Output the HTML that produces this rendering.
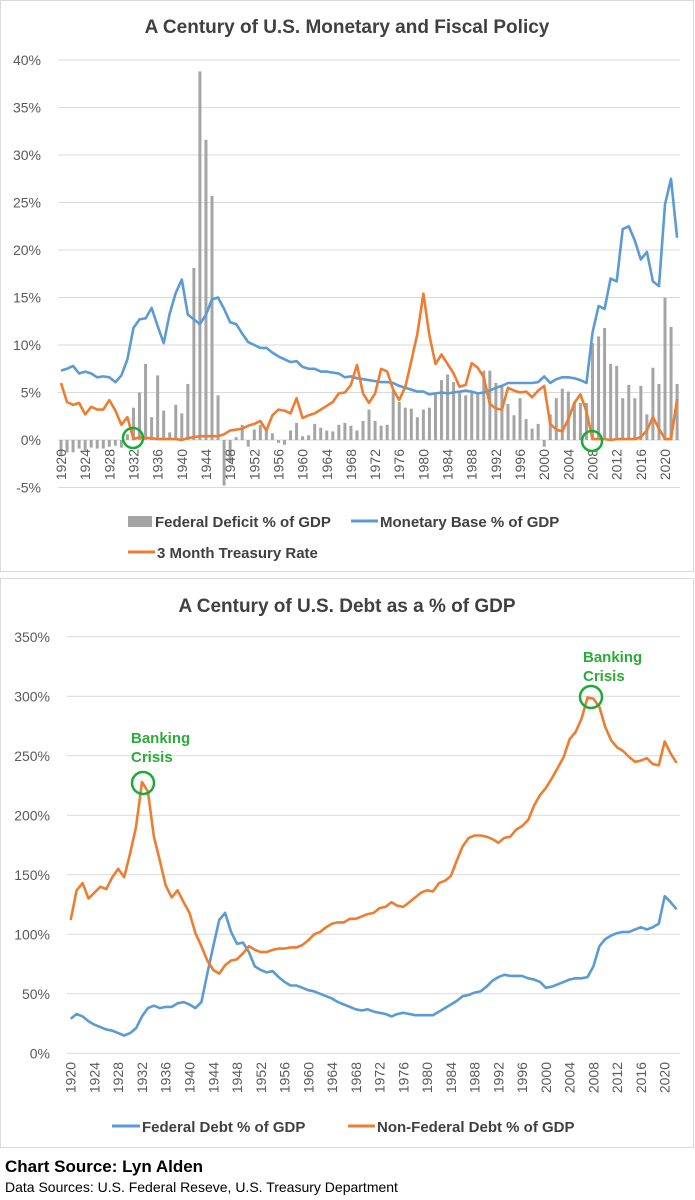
<!DOCTYPE html>
<html><head><meta charset="utf-8"><style>
html,body{margin:0;padding:0;background:#fff;width:695px;height:1200px;overflow:hidden;font-family:"Liberation Sans",Arial,sans-serif}
svg text{font-family:"Liberation Sans",Arial,sans-serif}
</style></head><body>
<svg id="svg" width="695" height="1200" viewBox="0 0 695 1200" xmlns="http://www.w3.org/2000/svg">
<rect x="0.5" y="0.5" width="693" height="571" fill="#fff" stroke="#d9d9d9"/>
<rect x="0.5" y="578.5" width="693" height="569" fill="#fff" stroke="#d9d9d9"/>
<text x="347" y="33" text-anchor="middle" font-size="19" font-weight="bold" fill="#404040">A Century of U.S. Monetary and Fiscal Policy</text>
<text x="347" y="612" text-anchor="middle" font-size="19" font-weight="bold" fill="#404040">A Century of U.S. Debt as a % of GDP</text>
<g id="topchart"></g><g id="botchart"></g>
<g font-weight="bold">
<rect x="128" y="516" width="24" height="11" fill="#a5a5a5"/>
<text x="155" y="527" font-size="15" fill="#404040">Federal Deficit % of GDP</text>
<line x1="351" y1="521" x2="378" y2="521" stroke="#5b9bd5" stroke-width="3"/>
<text x="380" y="527" font-size="15" fill="#404040">Monetary Base % of GDP</text>
<line x1="128" y1="552" x2="155" y2="552" stroke="#ed7d31" stroke-width="3"/>
<text x="157" y="558" font-size="15" fill="#404040">3 Month Treasury Rate</text>
</g>
<g font-weight="bold">
<line x1="112" y1="1126" x2="140" y2="1126" stroke="#5b9bd5" stroke-width="3"/>
<text x="142" y="1132" font-size="15" fill="#404040">Federal Debt % of GDP</text>
<line x1="348" y1="1126" x2="375" y2="1126" stroke="#ed7d31" stroke-width="3"/>
<text x="377" y="1132" font-size="15" fill="#404040">Non-Federal Debt % of GDP</text>
</g>
<g id="annot">
<circle cx="133" cy="438" r="10" fill="none" stroke="#1aaa3a" stroke-width="2.5"/>
<circle cx="592" cy="441" r="10" fill="none" stroke="#1aaa3a" stroke-width="2.5"/>
<circle cx="143" cy="783" r="11" fill="none" stroke="#1aaa3a" stroke-width="2.5"/>
<circle cx="591" cy="697" r="11" fill="none" stroke="#1aaa3a" stroke-width="2.5"/>
<text x="131" y="743" font-size="15" font-weight="bold" fill="#2eaa3a"><tspan x="131">Banking</tspan><tspan x="131" dy="19">Crisis</tspan></text>
<text x="583" y="662" font-size="15" font-weight="bold" fill="#2eaa3a"><tspan x="583">Banking</tspan><tspan x="583" dy="19">Crisis</tspan></text>
</g>
<text x="5" y="1172" font-size="17" font-weight="bold" fill="#000">Chart Source: Lyn Alden</text>
<text x="5" y="1192" font-size="14" fill="#000">Data Sources: U.S. Federal Reseve, U.S. Treasury Department</text>
</svg>
<script>
const startYear = 1920;
const topTicks = [-5,0,5,10,15,20,25,30,35,40];
const botTicks = [0,50,100,150,200,250,300,350];
const deficit = [-1.7,-1.3,-1.3,-0.9,-1.1,-0.8,-0.9,-0.9,-0.7,-0.6,-0.8,0.6,3.4,5.0,8.0,2.4,6.8,3.1,0.8,3.7,2.8,5.9,18.1,38.8,31.6,25.7,4.7,-4.8,-2.4,0.3,1.6,-0.7,1.1,1.6,1.2,0.7,-0.3,-0.5,1.0,1.8,0.4,0.5,1.7,1.3,1.0,0.9,1.6,1.8,1.5,1.0,2.0,3.2,2.0,1.5,1.6,5.3,4.0,3.4,3.3,2.4,3.2,3.4,5.0,6.3,6.9,6.1,5.0,4.7,5.0,5.0,7.3,7.3,6.0,5.6,3.8,2.6,4.4,2.2,1.2,1.7,-0.7,2.7,4.4,5.4,5.1,4.0,3.9,3.9,10.2,10.9,11.8,8.0,7.8,4.4,5.8,4.4,5.7,2.7,7.6,5.9,15.0,11.9,5.9];
const monetaryBase = [7.3,7.5,7.8,7.0,7.2,7.0,6.6,6.7,6.6,6.1,6.8,8.5,11.8,12.7,12.8,13.9,12.0,10.2,13.3,15.5,16.9,13.2,12.7,12.2,13.2,14.8,15.0,13.8,12.4,12.2,11.2,10.3,10.0,9.7,9.7,9.2,8.8,8.5,8.2,8.3,7.7,7.5,7.5,7.2,7.2,7.1,7.0,6.6,6.7,6.5,6.4,6.3,6.2,6.1,6.1,6.0,5.7,5.5,5.3,5.1,5.1,4.8,4.9,5.0,4.9,5.0,5.1,5.2,5.1,4.9,5.0,5.2,5.5,5.7,6.0,6.0,6.0,6.0,6.0,6.1,6.7,6.0,6.4,6.6,6.6,6.5,6.3,6.0,11.3,14.1,13.8,17.0,16.7,22.2,22.5,21.0,19.0,19.8,16.7,16.2,24.8,27.5,21.3];
const tbill = [6.0,4.0,3.7,3.9,2.7,3.5,3.2,3.2,4.2,3.1,1.6,2.4,0.1,0.3,0.2,0.2,0.1,0.1,0.1,0.1,0.0,0.2,0.3,0.4,0.4,0.4,0.4,0.6,1.0,1.1,1.2,1.5,1.7,2.0,1.0,2.6,3.2,3.1,2.8,4.4,2.3,2.6,2.8,3.2,3.6,4.0,4.9,5.0,5.8,7.9,4.9,3.9,4.9,7.5,7.2,5.3,4.2,5.6,8.3,11.2,15.4,11.0,8.0,9.0,8.0,7.0,5.6,5.8,8.1,7.6,6.6,3.8,3.3,3.2,5.5,5.2,5.0,5.1,4.5,5.2,5.7,1.7,1.1,0.9,2.2,3.9,4.8,3.0,0.1,0.1,0.1,0.0,0.1,0.1,0.1,0.1,0.3,1.0,2.4,1.2,0.1,0.1,4.3];
const federalDebt = [29,33,31,27,24,22,20,19,17,15,17,21,31,38,40,38,39,39,42,43,41,38,43,67,90,112,118,102,92,93,85,73,70,68,69,64,60,57,57,55,53,52,50,48,46,43,41,39,37,36,37,35,34,33,31,33,34,33,32,32,32,32,35,38,41,44,48,49,51,52,56,61,64,66,65,65,65,63,62,60,55,56,58,60,62,63,63,64,73,90,96,99,101,102,102,104,106,104,106,109,132,127,121];
const nonFederalDebt = [112,137,143,130,135,140,138,148,155,148,168,190,228,220,182,162,141,131,137,127,118,101,90,78,70,67,74,78,79,84,90,87,85,85,87,88,88,89,89,91,95,100,102,106,109,110,110,113,113,115,117,118,122,123,127,124,123,127,131,135,137,136,143,145,149,162,174,181,183,183,182,180,177,181,182,188,191,196,208,217,223,231,240,249,264,270,281,299,298,291,274,263,257,254,249,245,246,248,243,242,262,252,244];

const NS='http://www.w3.org/2000/svg';
function mk(parent,tag,attrs){const e=document.createElementNS(NS,tag);for(const k in attrs)e.setAttribute(k,attrs[k]);parent.appendChild(e);return e;}

const tX = i => 61 + i*6.04;
const tY = v => 440 - v*9.5;
const topG = document.getElementById('topchart');
topTicks.forEach(t=>{
  const g = mk(topG,'line',{x1:58,x2:680,y1:tY(t),y2:tY(t),stroke:'#d9d9d9','stroke-width':1});
  
  
  const l = mk(topG,'text',{x:41,y:tY(t)+5,'text-anchor':'end','font-size':14,fill:'#595959'});
  l.textContent = t+'%';
  
  
});
deficit.forEach((v,i)=>{
  const y0=tY(0), y1=tY(v);
  const b = mk(topG,'rect',{x:tX(i)-1.5,y:Math.min(y0,y1),width:3,height:Math.abs(y1-y0),fill:'#a5a5a5'});
  
  
});
for(let i=0;i<deficit.length;i+=4){
  const x=tX(i)+5, y=449;
  const l = mk(topG,'text',{x:x,y:y,transform:'rotate(-90 '+x+' '+y+')','text-anchor':'end','font-size':14,fill:'#595959'});
  l.textContent = startYear+i;
  
  
}
function drawLine(parent,arr,fx,fy,color,name){
  const p = mk(parent,'polyline',{points:arr.map((v,i)=>fx(i).toFixed(1)+','+fy(v).toFixed(1)).join(' '),fill:'none',stroke:color,'stroke-width':2.6,'stroke-linejoin':'round'});
  
  
}
drawLine(topG,monetaryBase,tX,tY,'#5b9bd5','monetary-base-line');
drawLine(topG,tbill,tX,tY,'#ed7d31','tbill-rate-line');

const bX = i => 70.7 + i*5.94;
const bY = v => 1053.3 - v*1.19;
const botG = document.getElementById('botchart');
botTicks.forEach(t=>{
  const g = mk(botG,'line',{x1:67,x2:680,y1:bY(t),y2:bY(t),stroke:'#d9d9d9','stroke-width':1});
  
  
  const l = mk(botG,'text',{x:50,y:bY(t)+5,'text-anchor':'end','font-size':14,fill:'#595959'});
  l.textContent = t+'%';
  
  
});
for(let i=0;i<federalDebt.length;i+=4){
  const x=bX(i)+5, y=1062;
  const l = mk(botG,'text',{x:x,y:y,transform:'rotate(-90 '+x+' '+y+')','text-anchor':'end','font-size':14,fill:'#595959'});
  l.textContent = startYear+i;
  
  
}
drawLine(botG,federalDebt,bX,bY,'#5b9bd5','federal-debt-line');
drawLine(botG,nonFederalDebt,bX,bY,'#ed7d31','non-federal-debt-line');
</script>
</body></html>
